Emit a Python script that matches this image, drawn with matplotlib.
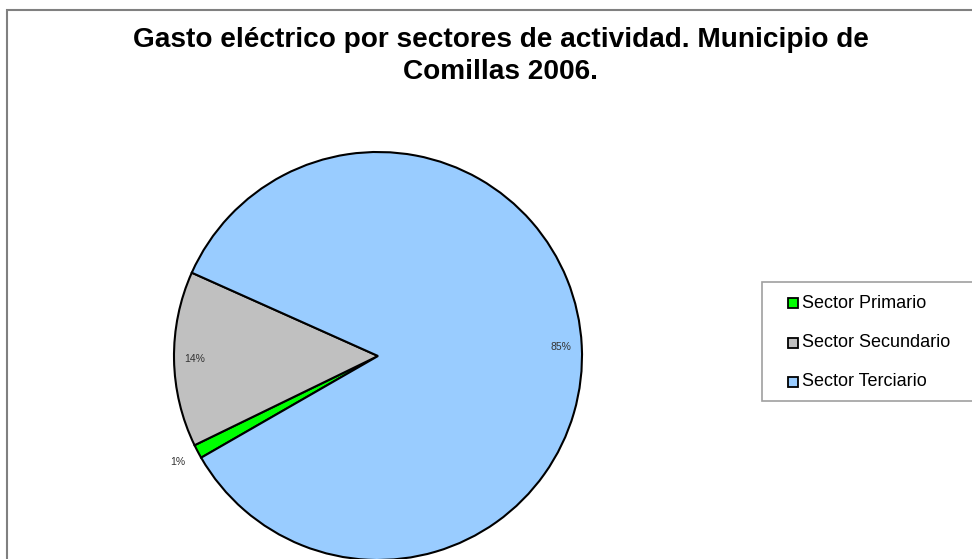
import numpy as np
import matplotlib.pyplot as plt
from matplotlib.patches import Rectangle

plt.rcParams['font.family'] = ['Liberation Sans', 'DejaVu Sans']

# data
sectores = ['Sector Primario', 'Sector Secundario', 'Sector Terciario']
porcentajes = [1.1, 13.9, 85.0]
colores = ['#00FF00', '#C0C0C0', '#99CCFF']

W, H = 972.0, 559.0
fig = plt.figure(figsize=(W / 100, H / 100), dpi=100)


def px(x, y):
    # pixel coords (from top-left) -> figure fraction
    return x / W, 1 - y / H


# chart border
fig.patches.append(Rectangle((7 / W, -0.05), 1.2, 1 - 10 / H + 0.05,
                             transform=fig.transFigure, fill=False,
                             edgecolor='#808080', linewidth=1.5))

fig.text(*px(501, 40), 'Gasto eléctrico por sectores de actividad. Municipio de',
         ha='center', va='center', fontsize=20.2, fontweight='bold')
fig.text(*px(500, 72), 'Comillas 2006.',
         ha='center', va='center', fontsize=20.2, fontweight='bold')

# pie axes: center (378, 356), radius 204 px
cx, cy, r = 378, 356, 204
m = 1.05
ax = fig.add_axes([(cx - r * m) / W, (H - cy - r * m) / H, 2 * r * m / W, 2 * r * m / H])
wedges, texts, autotexts = ax.pie(porcentajes, colors=colores, startangle=209.9,
                                  counterclock=False, autopct='%1.0f%%',
                                  pctdistance=0.9,
                                  wedgeprops=dict(edgecolor='black', linewidth=1.5),
                                  textprops=dict(fontsize=7.5, color='#333333'))
ax.set_xlim(-m, m)
ax.set_ylim(-m, m)
ax.set_aspect('equal')
ax.axis('off')

# small slice label sits outside the pie
w0 = wedges[0]
ang = np.deg2rad((w0.theta1 + w0.theta2) / 2)
autotexts[0].set_position((1.11 * np.cos(ang), 1.11 * np.sin(ang)))

# legend box, drawn like the spreadsheet one
x0, y0 = px(762, 401)
fig.patches.append(Rectangle((x0, y0), 300 / W, 119 / H, transform=fig.transFigure,
                             fill=True, facecolor='white', edgecolor='#A0A0A0',
                             linewidth=1.2))
for i, (lab, col) in enumerate(zip(sectores, colores)):
    yc = 303 + 39.5 * i
    sx, sy = px(788, yc + 5)
    fig.patches.append(Rectangle((sx, sy), 10 / W, 10 / H, transform=fig.transFigure,
                                 facecolor=col, edgecolor='black', linewidth=1.3))
    fig.text(*px(802, yc), lab, ha='left', va='center', fontsize=13)

fig.savefig('out.png', dpi=100)
